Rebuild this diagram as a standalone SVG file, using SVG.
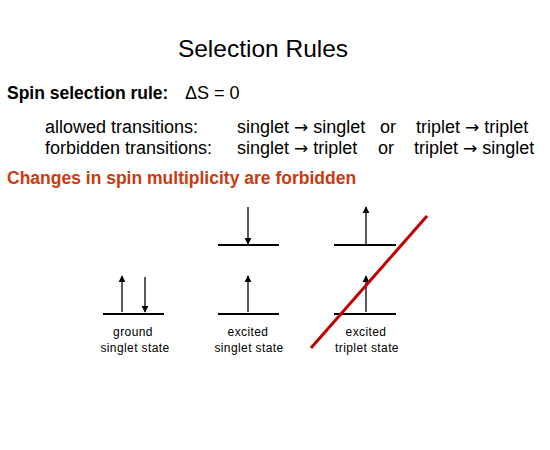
<svg xmlns="http://www.w3.org/2000/svg" width="550" height="450" viewBox="0 0 550 450">
<style>
text{font-family:"Liberation Sans",Arial,sans-serif;fill:#000}
.t{font-size:18px}
.b{font-size:17.5px;font-weight:bold}
.ar{font-family:"DejaVu Sans",sans-serif;font-size:17px}
.lbl{font-size:12px;text-anchor:middle;letter-spacing:0.4px}
.lvl{stroke:#000;stroke-width:2}
.arr{stroke:#000;stroke-width:1.3;fill:none}
</style>
<defs>
<marker id="ah" viewBox="0 0 10 10" refX="9" refY="5" markerWidth="7" markerHeight="8" markerUnits="userSpaceOnUse" orient="auto">
<path d="M0,0 L10,5 L0,10 z" fill="#000"/>
</marker>
</defs>
<rect width="550" height="450" fill="#fff"/>
<text x="263" y="57" text-anchor="middle" style="font-size:24.5px">Selection Rules</text>
<text class="b" x="7" y="99">Spin selection rule:</text>
<text class="t" x="185" y="99">ΔS = 0</text>
<text class="t" x="45" y="133">allowed transitions:</text>
<text class="t" x="237" y="133">singlet <tspan class="ar">→</tspan> singlet</text>
<text class="t" x="380" y="133">or</text>
<text class="t" x="416" y="133">triplet <tspan class="ar">→</tspan> triplet</text>
<text class="t" x="45" y="154">forbidden transitions:</text>
<text class="t" x="237" y="154">singlet <tspan class="ar">→</tspan> triplet</text>
<text class="t" x="378" y="154">or</text>
<text class="t" x="414" y="154">triplet <tspan class="ar">→</tspan> singlet</text>
<text class="b" x="7" y="184" style="fill:#cc3a10">Changes in spin multiplicity are forbidden</text>
<g id="ground">
<line class="lvl" x1="103" y1="314" x2="164" y2="314"/>
<line class="arr" x1="122" y1="312" x2="122" y2="276" marker-end="url(#ah)"/>
<line class="arr" x1="145" y1="277" x2="145" y2="312" marker-end="url(#ah)"/>
<text class="lbl" x="133" y="336">ground</text>
<text class="lbl" x="135" y="352">singlet state</text>
</g>
<g id="excited-singlet">
<line class="lvl" x1="218" y1="314" x2="279" y2="314"/>
<line class="lvl" x1="218" y1="245" x2="279" y2="245"/>
<line class="arr" x1="248" y1="312" x2="248" y2="276" marker-end="url(#ah)"/>
<line class="arr" x1="248" y1="207" x2="248" y2="244" marker-end="url(#ah)"/>
<text class="lbl" x="248" y="336">excited</text>
<text class="lbl" x="249" y="352">singlet state</text>
</g>
<g id="excited-triplet">
<line class="lvl" x1="334" y1="314" x2="396" y2="314"/>
<line class="lvl" x1="334" y1="245" x2="396" y2="245"/>
<line class="arr" x1="366" y1="312" x2="366" y2="276" marker-end="url(#ah)"/>
<line class="arr" x1="366" y1="244" x2="366" y2="207" marker-end="url(#ah)"/>
<text class="lbl" x="366" y="336">excited</text>
<text class="lbl" x="367" y="352">triplet state</text>
</g>
<g id="connectors">
<line x1="311" y1="348" x2="427" y2="216" stroke="#c00000" stroke-width="3"/>
</g>
</svg>
